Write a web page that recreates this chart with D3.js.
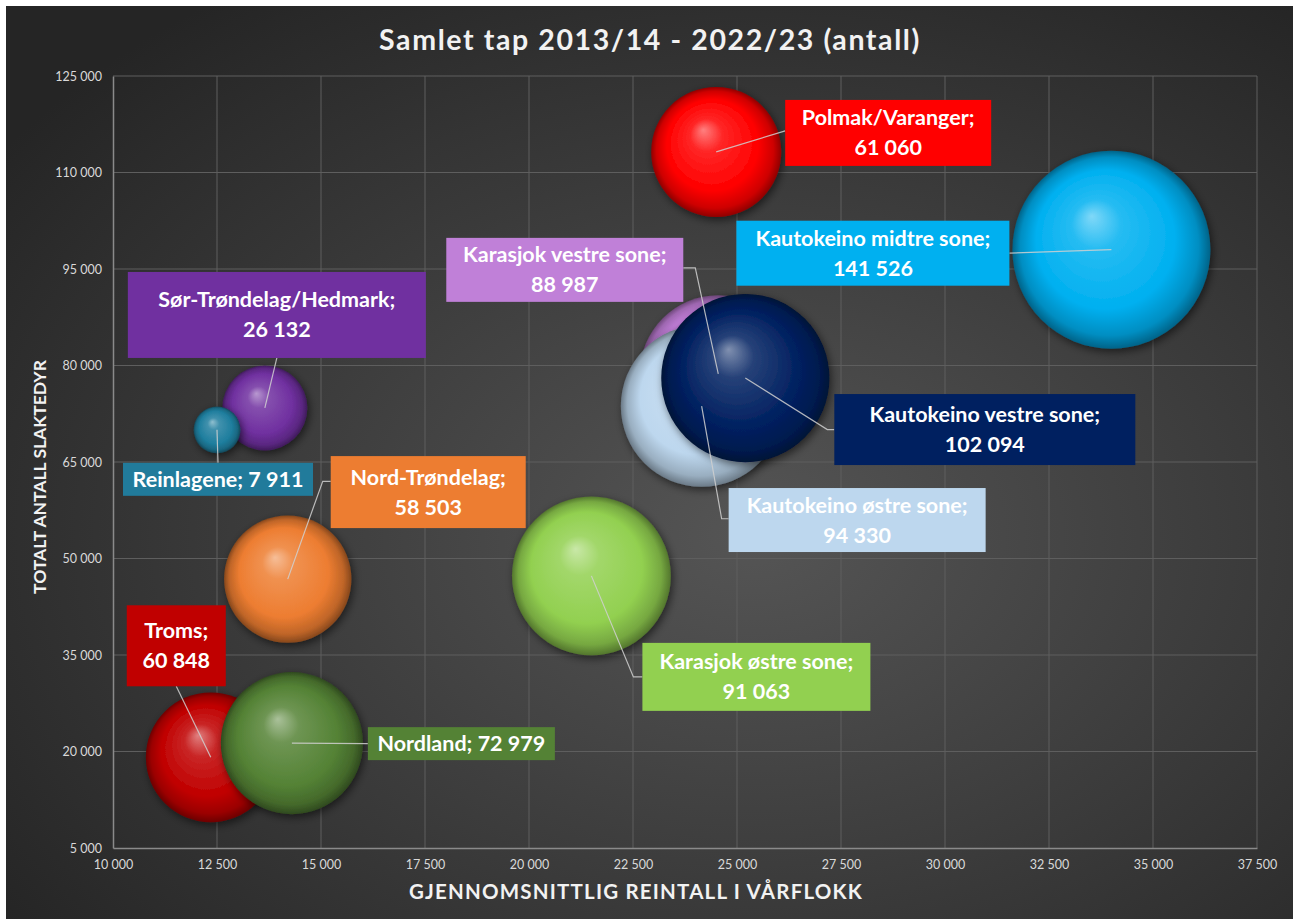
<!DOCTYPE html>
<html>
<head>
<meta charset="utf-8">
<script src="https://cdn.jsdelivr.net/npm/d3@7"></script>
<style>
  body { margin: 0; background: #fff; }
  svg { display: block; }
</style>
</head>
<body>
<div id="chart"></div>
<script>
    // data
    var areas = ["Polmak/Varanger", "Karasjok østre sone", "Karasjok vestre sone",
      "Kautokeino østre sone", "Kautokeino midtre sone", "Kautokeino vestre sone",
      "Troms", "Nordland", "Nord-Trøndelag", "Sør-Trøndelag/Hedmark", "Reinlagene"];
    var avgSpringHerd = [24500, 21500, 24550, 24150, 34000, 25200, 12350, 14300, 14200, 13650, 12500];
    var totalSlaughter = [113200, 47300, 78700, 73700, 98000, 78050, 19100, 21300, 46800, 73400, 70000];
    var totalLoss = [61060, 91063, 88987, 94330, 141526, 102094, 60848, 72979, 58503, 26132, 7911];
    var xTicks = [10000, 12500, 15000, 17500, 20000, 22500, 25000, 27500, 30000, 32500, 35000, 37500];
    var yTicks = [5000, 20000, 35000, 50000, 65000, 80000, 95000, 110000, 125000];

    var clrBubble = ["#ff0000", "#92d050", "#c47fdb", "#bdd7ee", "#00b0f0", "#002060",
      "#c00000", "#548235", "#ed7d31", "#7030a0", "#1f7e9e"];
    var clrBox = ["#ff0000", "#92d050", "#c080d8", "#bdd7ee", "#00b0f0", "#002060",
      "#c00000", "#548235", "#ed7d31", "#7030a0", "#217b9b"];

    // label boxes: offset from bubble centre, size, leader attach point (fraction of box) and elbow
    var labelLayout = [
      { dx: 69, dy: -52, w: 206, h: 66, ax: 0, ay: 0.47, elbow: 0, lines: 2 },
      { dx: 51, dy: 67, w: 228, h: 68, ax: 0, ay: 0.5, elbow: 9, lines: 2 },
      { dx: -272, dy: -136, w: 237, h: 64, ax: 1, ay: 0.47, elbow: 12, lines: 2 },
      { dx: 27, dy: 82, w: 257, h: 64, ax: 0, ay: 0.48, elbow: 7, lines: 2 },
      { dx: -375, dy: -29, w: 273, h: 65, ax: 1, ay: 0.5, elbow: 0, lines: 2 },
      { dx: 89, dy: 16, w: 301, h: 71, ax: 0, ay: 0.5, elbow: 7, lines: 2 },
      { dx: -84, dy: -152, w: 99, h: 81, ax: 0.5, ay: 1, elbow: 0, lines: 2 },
      { dx: 76, dy: -16, w: 187, h: 33, ax: 0, ay: 0.5, elbow: 0, lines: 1 },
      { dx: 43, dy: -123, w: 195, h: 72, ax: 0, ay: 0.35, elbow: 8, lines: 2 },
      { dx: -137, dy: -136, w: 298, h: 86, ax: 0.5, ay: 1, elbow: 0, lines: 2 },
      { dx: -94, dy: 33, w: 190, h: 33, ax: 0.5, ay: 0, elbow: 0, lines: 1 }
    ];

    var width = 1293, height = 919;
    var svg = d3.select("#chart").append("svg")
      .attr("width", width).attr("height", height);
    var defs = svg.append("defs");

    var bg = defs.append("radialGradient").attr("id", "bg")
      .attr("cx", "58%").attr("cy", "58%").attr("r", "72%");
    bg.append("stop").attr("offset", "0%").attr("stop-color", "#555555");
    bg.append("stop").attr("offset", "100%").attr("stop-color", "#252525");

    svg.append("rect").attr("x", 6).attr("y", 6)
      .attr("width", width - 6).attr("height", height - 6)
      .attr("fill", "url(#bg)");

    var shadow = defs.append("filter").attr("id", "shadow")
      .attr("x", "-30%").attr("y", "-30%").attr("width", "160%").attr("height", "160%");
    shadow.append("feDropShadow").attr("dx", 2).attr("dy", 3)
      .attr("stdDeviation", 4).attr("flood-color", "#000").attr("flood-opacity", 0.55);

    var x = d3.scaleLinear().domain([10000, 37500]).range([113, 1257]);
    var y = d3.scaleLinear().domain([5000, 125000]).range([848, 76]);
    var r = d3.scaleSqrt().domain([0, 141526]).range([0, 99]);

    var nb = d3.formatLocale({ decimal: ",", thousands: " ", grouping: [3], currency: ["", " kr"] });
    var fmtTick = nb.format(",d");
    var fmtVal = nb.format(",d");

    // gridlines
    var grid = svg.append("g");
    grid.selectAll(".gx").data(xTicks.slice(1)).enter().append("line")
      .attr("x1", function (d) { return x(d); }).attr("x2", function (d) { return x(d); })
      .attr("y1", y(125000)).attr("y2", y(5000))
      .attr("stroke", "#5e5e5e").attr("stroke-width", 1);
    grid.selectAll(".gy").data(yTicks.slice(1)).enter().append("line")
      .attr("x1", x(10000)).attr("x2", x(37500))
      .attr("y1", function (d) { return y(d); }).attr("y2", function (d) { return y(d); })
      .attr("stroke", "#5e5e5e").attr("stroke-width", 1);

    // axes
    var xAxis = svg.append("g").attr("transform", "translate(0," + y(5000) + ")")
      .call(d3.axisBottom(x).tickValues(xTicks).tickFormat(fmtTick).tickSize(0).tickPadding(12));
    var yAxis = svg.append("g").attr("transform", "translate(" + x(10000) + ",0)")
      .call(d3.axisLeft(y).tickValues(yTicks).tickFormat(fmtTick).tickSize(0).tickPadding(11));
    [xAxis, yAxis].forEach(function (a) {
      a.select(".domain").attr("stroke", "#8a8a8a").attr("stroke-width", 1.5);
      a.selectAll("text").attr("fill", "#d9d9d9")
        .attr("xml:space", "preserve")
        .style("white-space", "pre")
        .style("font-family", "Lato, 'Open Sans', sans-serif").style("font-size", "12.5px");
    });

    // sphere gradients
    clrBubble.forEach(function (c, i) {
      var g = defs.append("radialGradient").attr("id", "sph" + i)
        .attr("cx", "50%").attr("cy", "50%").attr("r", "50%")
        .attr("fx", "40%").attr("fy", "33%");
      var base = d3.color(c);
      g.append("stop").attr("offset", "0%").attr("stop-color", d3.interpolateRgb(c, "#ffffff")(0.5));
      g.append("stop").attr("offset", "25%").attr("stop-color", d3.interpolateRgb(c, "#ffffff")(0.15));
      g.append("stop").attr("offset", "70%").attr("stop-color", c);
      g.append("stop").attr("offset", "90%").attr("stop-color", base.darker(0.6));
      g.append("stop").attr("offset", "100%").attr("stop-color", base.darker(1.6));
    });

    var idx = d3.range(areas.length);

    function boxOf(i) {
      var L = labelLayout[i];
      return { x: x(avgSpringHerd[i]) + L.dx, y: y(totalSlaughter[i]) + L.dy, w: L.w, h: L.h };
    }

    svg.append("g").selectAll("circle").data(idx).enter().append("circle")
      .attr("cx", function (i) { return x(avgSpringHerd[i]); })
      .attr("cy", function (i) { return y(totalSlaughter[i]); })
      .attr("r", function (i) { return r(totalLoss[i]); })
      .attr("fill", function (i) { return "url(#sph" + i + ")"; })
      .attr("filter", "url(#shadow)");

    // leader lines from bubble centre to its label box
    svg.append("g").selectAll("path").data(idx).enter().append("path")
      .attr("d", function (i) {
        var L = labelLayout[i], b = boxOf(i);
        var ax = b.x + L.ax * b.w, ay = b.y + L.ay * b.h;
        var ex = ax + (L.ax === 0 ? -L.elbow : L.elbow);
        var p = d3.path();
        p.moveTo(x(avgSpringHerd[i]), y(totalSlaughter[i]));
        p.lineTo(ex, ay);
        p.lineTo(ax, ay);
        return p.toString();
      })
      .attr("fill", "none").attr("stroke", "#d0d0d0").attr("stroke-opacity", 0.85).attr("stroke-width", 1.2);

    var labels = svg.append("g").selectAll("g").data(idx).enter().append("g");
    labels.append("rect")
      .attr("x", function (i) { return boxOf(i).x; })
      .attr("y", function (i) { return boxOf(i).y; })
      .attr("width", function (i) { return boxOf(i).w; })
      .attr("height", function (i) { return boxOf(i).h; })
      .attr("fill", function (i) { return clrBox[i]; });
    labels.each(function (i) {
      var b = boxOf(i), L = labelLayout[i];
      var txt = L.lines === 2 ? [areas[i] + ";", fmtVal(totalLoss[i])] : [areas[i] + "; " + fmtVal(totalLoss[i])];
      var cy = b.y + b.h / 2;
      d3.select(this).selectAll("text").data(txt).enter().append("text")
        .attr("x", b.x + b.w / 2)
        .attr("y", function (d, k) { return cy + (k - (txt.length - 1) / 2) * 30; })
        .attr("dy", "0.35em")
        .attr("text-anchor", "middle")
        .attr("fill", "#ffffff")
        .style("font-family", "Lato, 'Open Sans', sans-serif")
        .style("font-weight", "bold")
        .style("font-size", "21.5px")
        .text(function (d) { return d; });
    });

    // titles
    svg.append("text").attr("x", 650).attr("y", 50)
      .attr("text-anchor", "middle").attr("fill", "#f2f2f2")
      .style("font-family", "Lato, 'Open Sans', sans-serif").style("font-weight", "bold")
      .style("font-size", "28.5px").style("letter-spacing", "1.6px")
      .text("Samlet tap 2013/14 - 2022/23 (antall)");
    svg.append("text").attr("x", 636).attr("y", 899)
      .attr("text-anchor", "middle").attr("fill", "#f2f2f2")
      .style("font-family", "Lato, 'Open Sans', sans-serif").style("font-weight", "bold")
      .style("font-size", "20.5px").style("letter-spacing", "1.2px")
      .text("GJENNOMSNITTLIG REINTALL I VÅRFLOKK");
    svg.append("text").attr("transform", "translate(46,477) rotate(-90)")
      .attr("text-anchor", "middle").attr("fill", "#f2f2f2")
      .style("font-family", "Lato, 'Open Sans', sans-serif").style("font-weight", "bold")
      .style("font-size", "17.5px")
      .text("TOTALT ANTALL SLAKTEDYR");
</script>
</body>
</html>
